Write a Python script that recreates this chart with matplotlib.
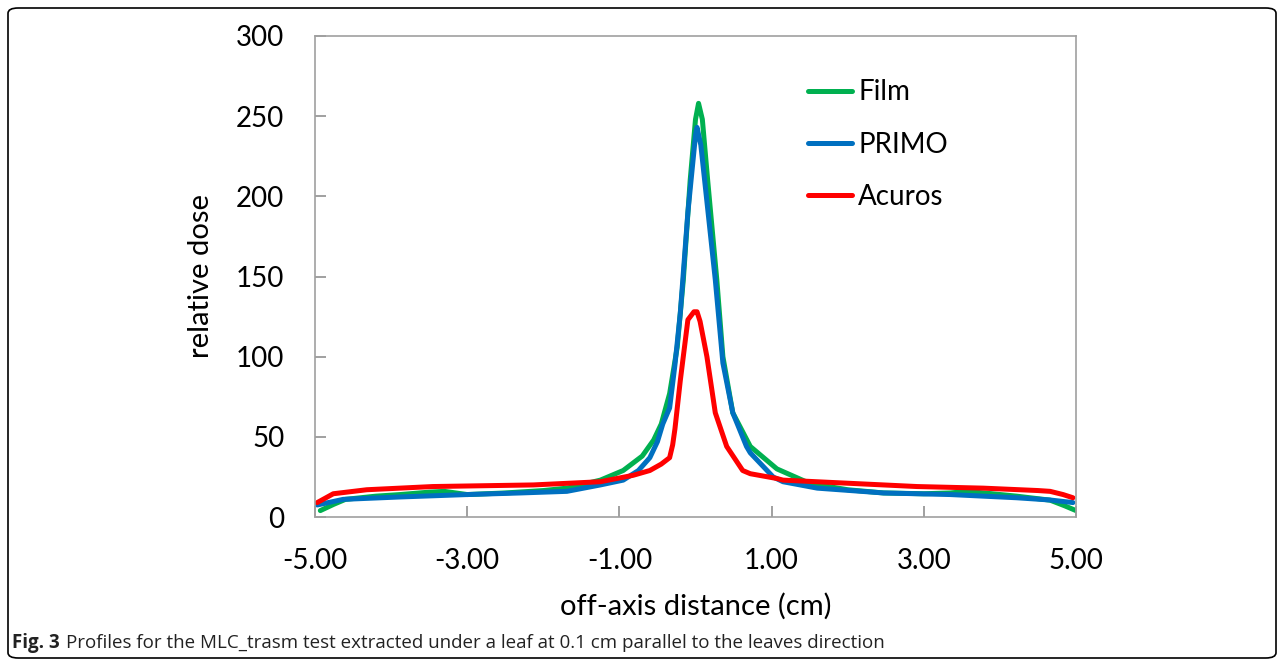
import numpy as np
import matplotlib
matplotlib.use("Agg")
import matplotlib.pyplot as plt
from matplotlib.patches import FancyBboxPatch

# profile data (off-axis distance in cm, relative dose)
film_x = [-4.93, -4.75, -4.6, -4.2, -3.88, -3.5, -3.3, -3.0, -2.5, -2.0, -1.69, -1.25, -0.95,
          -0.7, -0.55, -0.45, -0.34, -0.24, -0.16, -0.07, 0.0, 0.04, 0.09, 0.16, 0.28, 0.36,
          0.49, 0.72, 1.07, 1.5, 2.0, 2.47, 3.0, 3.35, 3.57, 3.9, 4.22, 4.66, 4.85, 5.0]
film_y = [4, 8, 11, 13, 14, 15.5, 16, 14, 15, 16.5, 18, 23, 29,
          38, 48, 58, 77, 106, 148, 210, 248, 258, 248, 210, 148, 100,
          65, 44, 30, 21, 17, 15, 14.5, 15, 16, 14.5, 13, 10.5, 7, 4]

primo_x = [-4.97, -4.63, -3.88, -3.0, -2.3, -1.69, -1.25, -0.95, -0.75, -0.6, -0.5, -0.43,
           -0.34, -0.27, -0.2, -0.1, 0.0, 0.02, 0.07, 0.12, 0.26, 0.36, 0.49, 0.67, 0.72,
           1.02, 1.15, 1.6, 2.47, 3.35, 4.22, 4.66, 4.96]
primo_y = [7.5, 11, 12.5, 14, 15, 16, 20, 23, 29, 37, 47, 58,
           68, 95, 127, 190, 238, 243, 232, 210, 148, 96, 65, 44, 40,
           25, 22, 18, 15, 14, 12, 10.6, 9]

acuros_x = [-4.97, -4.76, -4.32, -3.45, -2.13, -1.25, -0.82, -0.6, -0.45, -0.34, -0.3, -0.27,
            -0.2, -0.1, -0.02, 0.02, 0.06, 0.15, 0.26, 0.41, 0.62, 0.72, 1.07, 1.15, 2.03,
            2.91, 3.78, 4.5, 4.66, 4.83, 4.96]
acuros_y = [9, 14.5, 17, 19, 20, 22, 26, 29, 33, 37, 45, 55,
            85, 123, 128, 128, 122, 100, 65, 44, 29, 27, 24, 23, 21,
            19, 18, 16.5, 16, 14, 12]

x_ticks = [-5, -3, -1, 1, 3, 5]
y_ticks = [0, 50, 100, 150, 200, 250, 300]

plt.rcParams['font.family'] = ['Lato', 'DejaVu Sans']

fig = plt.figure(figsize=(12.84, 6.64), dpi=100)
ax = fig.add_axes([315 / 1284, 147 / 664, 761 / 1284, 481 / 664])

style = dict(lw=3.6, solid_capstyle='round', solid_joinstyle='round')
ax.plot(film_x, film_y, color='#00B050', label='Film', **style)
ax.plot(primo_x, primo_y, color='#0070C0', label='PRIMO', **style)
ax.plot(acuros_x, acuros_y, color='#FF0000', label='Acuros', **style)

ax.set_xlim(-5, 5)
ax.set_ylim(0, 300)
ax.set_xticks(x_ticks)
ax.set_xticklabels([f"{t:.2f}" for t in x_ticks])
ax.set_yticks(y_ticks)
for s in ax.spines.values():
    s.set_color('#a0a0a0')
    s.set_linewidth(1.2)
ax.tick_params(direction='in', length=8, width=1.2, color='#909090', labelsize=20)
ax.tick_params(axis='x', pad=22)
ax.tick_params(axis='y', pad=22)

ax.set_xlabel('off-axis distance (cm)', fontsize=21, labelpad=14)
ax.set_ylabel('relative dose', fontsize=21, labelpad=16)

leg = ax.legend(loc='upper left', bbox_to_anchor=(0.615, 0.962), frameon=False,
                fontsize=20, handlelength=1.6, handletextpad=0.2, labelspacing=0.95)

# rounded frame around the whole figure
frame = FancyBboxPatch((8 / 1284, 6 / 664), 1268 / 1284, 650 / 664,
                       boxstyle='round,pad=0,rounding_size=0.008',
                       transform=fig.transFigure, fill=False, ec='black', lw=1.2)
fig.patches.append(frame)

# caption: bold "Fig. 3" followed by normal text
t1 = fig.text(12 / 1284, 1 - 643 / 664, 'Fig. 3', fontsize=13.5, fontweight='bold',
              family=['Open Sans', 'DejaVu Sans'], va='center', color='#222222')
fig.canvas.draw()
bb = t1.get_window_extent()
fig.text((bb.x1 + 6) / 1284, 1 - 643 / 664,
         'Profiles for the MLC_trasm test extracted under a leaf at 0.1 cm parallel to the leaves direction',
         fontsize=13.5, family=['Open Sans', 'DejaVu Sans'], va='center', color='#222222')

fig.savefig('out.png', dpi=100)
